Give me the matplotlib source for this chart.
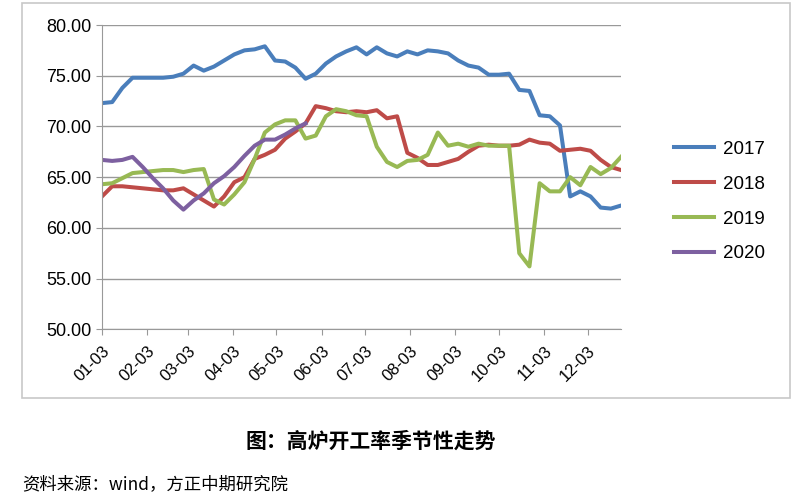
import numpy as np
import matplotlib.pyplot as plt
from matplotlib.patches import Rectangle

plt.rcParams['font.family'] = ['Liberation Sans', 'DejaVu Sans']

# weekly data, first point on 01-03
weeks = np.arange(52)
tick_days = [0, 31, 59, 90, 120, 151, 181, 212, 243, 273, 304, 334]
tick_labels = ['01-03', '02-03', '03-03', '04-03', '05-03', '06-03',
               '07-03', '08-03', '09-03', '10-03', '11-03', '12-03']

y2017 = [72.3, 72.4, 73.8, 74.8, 74.8, 74.8, 74.8, 74.9, 75.2, 76.0, 75.5, 75.9,
         76.5, 77.1, 77.5, 77.6, 77.9, 76.5, 76.4, 75.8, 74.7, 75.2, 76.2, 76.9,
         77.4, 77.8, 77.1, 77.8, 77.2, 76.9, 77.4, 77.1, 77.5, 77.4, 77.2, 76.5,
         76.0, 75.8, 75.1, 75.1, 75.2, 73.6, 73.5, 71.1, 71.0, 70.1, 63.1, 63.6,
         63.1, 62.0, 61.9, 62.2]
y2018 = [63.1, 64.1, 64.1, 64.0, 63.9, 63.8, 63.7, 63.7, 63.9, 63.3, 62.7, 62.1,
         63.1, 64.5, 65.0, 66.8, 67.2, 67.7, 68.8, 69.5, 70.3, 72.0, 71.8, 71.5,
         71.4, 71.5, 71.4, 71.6, 70.8, 71.0, 67.4, 66.9, 66.2, 66.2, 66.5, 66.8,
         67.5, 68.1, 68.2, 68.1, 68.1, 68.2, 68.7, 68.4, 68.3, 67.6, 67.7, 67.8,
         67.6, 66.7, 66.0, 65.7]
y2019 = [64.3, 64.4, 64.9, 65.4, 65.5, 65.6, 65.7, 65.7, 65.5, 65.7, 65.8, 62.8,
         62.3, 63.3, 64.5, 66.8, 69.4, 70.2, 70.6, 70.6, 68.8, 69.1, 71.0, 71.7,
         71.5, 71.1, 71.0, 68.0, 66.5, 66.0, 66.6, 66.7, 67.2, 69.4, 68.1, 68.3,
         68.0, 68.3, 68.1, 68.1, 68.1, 57.5, 56.2, 64.4, 63.6, 63.6, 65.0, 64.2,
         66.0, 65.3, 65.9, 67.0]
y2020 = [66.7, 66.6, 66.7, 67.0, 66.0, 64.9, 63.9, 62.7, 61.8, 62.7, 63.4, 64.4,
         65.1, 66.0, 67.1, 68.1, 68.7, 68.7, 69.2, 69.8, 70.3]

series = [('2017', y2017, '#4a7ebb'), ('2018', y2018, '#be4b48'),
          ('2019', y2019, '#98b954'), ('2020', y2020, '#7d60a0')]

fig = plt.figure(figsize=(8, 5), dpi=100)
ax = fig.add_axes([0.1275, 0.3414, 0.6488, 0.6086])

for name, vals, col in series:
    x = weeks[:len(vals)] * 7
    ax.plot(x, vals, color=col, lw=2.9, label=name, solid_joinstyle='round')

ax.set_xlim(0, 51 * 7)
ax.set_ylim(50, 80)
ax.set_yticks(np.arange(50, 81, 5))
ax.set_yticklabels(['%.2f' % v for v in np.arange(50, 81, 5)], fontsize=13)
ax.set_xticks(tick_days)
ax.set_xticklabels(tick_labels, rotation=45, ha='right', rotation_mode='anchor',
                   fontsize=12)
ax.grid(axis='y', color='#999999', lw=1)
ax.set_axisbelow(True)
for s in ['top', 'right']:
    ax.spines[s].set_visible(False)
ax.spines['left'].set_color('#999999')
ax.spines['bottom'].set_color('#999999')
ax.tick_params(axis='both', colors='#999999', labelcolor='black', length=4)
ax.tick_params(axis='x', pad=6)

ax.legend(loc='center left', bbox_to_anchor=(1.07, 0.42), frameon=False,
          fontsize=13.5, handlelength=2.1, handletextpad=0.5, labelspacing=0.95)

# chart frame
fig.patches.append(Rectangle((0.028, 0.204), 0.96, 0.79, transform=fig.transFigure,
                             fill=False, edgecolor='#c8c8c8', lw=1.2))

fig.text(0.463, 0.118, '图：高炉开工率季节性走势', ha='center', va='center',
         fontsize=15, fontweight='bold', family=['Noto Sans CJK SC', 'DejaVu Sans'])
fig.text(0.028, 0.032, '资料来源：wind，方正中期研究院', ha='left', va='center',
         fontsize=12.5, style='italic', family=['Noto Sans CJK SC', 'DejaVu Sans'])

fig.savefig('out.png', dpi=100)
